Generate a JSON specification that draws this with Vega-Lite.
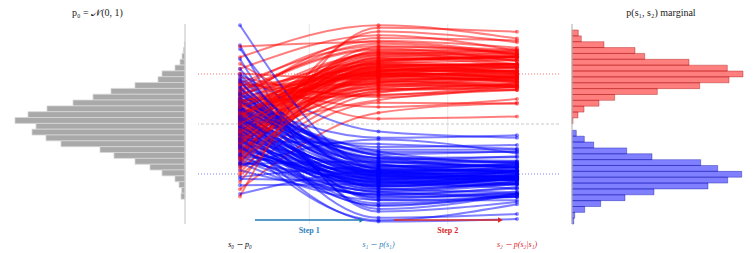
{
"$schema": "https://vega.github.io/schema/vega-lite/v6.json",
"padding": {"left": 10, "top": 7, "right": 2, "bottom": 2},
"spacing": 11,
"config": {"view": {"stroke": null}, "font": "Liberation Serif"},
"datasets": {
"steps": [{"k": "s0", "t": 0}, {"k": "s1", "t": 1}, {"k": "s2", "t": 2}],
"h0": [
{"lo": 3.29, "hi": 3.057, "n": 0.6}, {"lo": 3.057, "hi": 2.824, "n": 1.6}, {"lo": 2.824, "hi": 2.59, "n": 3}, {"lo": 2.59, "hi": 2.357, "n": 5},
{"lo": 2.357, "hi": 2.124, "n": 10}, {"lo": 2.124, "hi": 1.891, "n": 23}, {"lo": 1.891, "hi": 1.658, "n": 27}, {"lo": 1.658, "hi": 1.424, "n": 50},
{"lo": 1.424, "hi": 1.191, "n": 74}, {"lo": 1.191, "hi": 0.958, "n": 92}, {"lo": 0.958, "hi": 0.725, "n": 112}, {"lo": 0.725, "hi": 0.492, "n": 138},
{"lo": 0.492, "hi": 0.258, "n": 157}, {"lo": 0.258, "hi": 0.025, "n": 170}, {"lo": 0.025, "hi": -0.208, "n": 149}, {"lo": -0.208, "hi": -0.441, "n": 153},
{"lo": -0.441, "hi": -0.674, "n": 139}, {"lo": -0.674, "hi": -0.908, "n": 124}, {"lo": -0.908, "hi": -1.141, "n": 85}, {"lo": -1.141, "hi": -1.374, "n": 71},
{"lo": -1.374, "hi": -1.607, "n": 50}, {"lo": -1.607, "hi": -1.84, "n": 35}, {"lo": -1.84, "hi": -2.074, "n": 23}, {"lo": -2.074, "hi": -2.307, "n": 10},
{"lo": -2.307, "hi": -2.54, "n": 6}, {"lo": -2.54, "hi": -2.773, "n": 3.3}, {"lo": -2.773, "hi": -3.006, "n": 4}
],
"h1": [
{"c": "r", "lo": 3.76, "hi": 3.526, "n": 6.3}, {"c": "r", "lo": 3.526, "hi": 3.291, "n": 9.3}, {"c": "r", "lo": 3.291, "hi": 3.057, "n": 32}, {"c": "r", "lo": 3.057, "hi": 2.822, "n": 63},
{"c": "r", "lo": 2.822, "hi": 2.588, "n": 72.7}, {"c": "r", "lo": 2.588, "hi": 2.353, "n": 117}, {"c": "r", "lo": 2.353, "hi": 2.119, "n": 155.3}, {"c": "r", "lo": 2.119, "hi": 1.884, "n": 171},
{"c": "r", "lo": 1.884, "hi": 1.65, "n": 157}, {"c": "r", "lo": 1.65, "hi": 1.415, "n": 127.7}, {"c": "r", "lo": 1.415, "hi": 1.181, "n": 85.3}, {"c": "r", "lo": 1.181, "hi": 0.946, "n": 42.7},
{"c": "r", "lo": 0.946, "hi": 0.712, "n": 27}, {"c": "r", "lo": 0.712, "hi": 0.477, "n": 12}, {"c": "r", "lo": 0.477, "hi": 0.243, "n": 6}, {"c": "r", "lo": 0.243, "hi": 0.008, "n": 1},
{"c": "b", "lo": -0.252, "hi": -0.487, "n": 4.3}, {"c": "b", "lo": -0.487, "hi": -0.721, "n": 12.3}, {"c": "b", "lo": -0.721, "hi": -0.956, "n": 21.7}, {"c": "b", "lo": -0.956, "hi": -1.19, "n": 54.7},
{"c": "b", "lo": -1.19, "hi": -1.425, "n": 80}, {"c": "b", "lo": -1.425, "hi": -1.659, "n": 128.7}, {"c": "b", "lo": -1.659, "hi": -1.894, "n": 145.7}, {"c": "b", "lo": -1.894, "hi": -2.128, "n": 169.7},
{"c": "b", "lo": -2.128, "hi": -2.363, "n": 155.7}, {"c": "b", "lo": -2.363, "hi": -2.597, "n": 136}, {"c": "b", "lo": -2.597, "hi": -2.832, "n": 82}, {"c": "b", "lo": -2.832, "hi": -3.066, "n": 53},
{"c": "b", "lo": -3.066, "hi": -3.301, "n": 28.7}, {"c": "b", "lo": -3.301, "hi": -3.535, "n": 12.7}, {"c": "b", "lo": -3.535, "hi": -3.77, "n": 2.7}, {"c": "b", "lo": -3.77, "hi": -4.0, "n": 1.7}
],
"traj": [
{"id": 1, "c": "r", "s0": 0.31, "s1": 2.15, "s2": 2.28}, {"id": 101, "c": "b", "s0": -0.12, "s1": -2.1, "s2": -2.13},
{"id": 2, "c": "r", "s0": -1.12, "s1": 1.62, "s2": 1.49}, {"id": 102, "c": "b", "s0": 0.94, "s1": -1.55, "s2": -1.52},
{"id": 3, "c": "r", "s0": 0.87, "s1": 2.78, "s2": 2.71}, {"id": 103, "c": "b", "s0": -1.33, "s1": -2.72, "s2": -2.9},
{"id": 4, "c": "r", "s0": -0.45, "s1": 1.95, "s2": 2.27}, {"id": 104, "c": "b", "s0": 0.51, "s1": -1.9, "s2": -1.74},
{"id": 5, "c": "r", "s0": 1.63, "s1": 3.12, "s2": 2.81}, {"id": 105, "c": "b", "s0": 1.77, "s1": -3.05, "s2": -2.92},
{"id": 6, "c": "r", "s0": -2.05, "s1": 0.85, "s2": 0.81}, {"id": 106, "c": "b", "s0": -0.67, "s1": -0.8, "s2": -0.99},
{"id": 7, "c": "r", "s0": 0.12, "s1": 2.41, "s2": 2.54}, {"id": 107, "c": "b", "s0": 0.25, "s1": -2.35, "s2": -2.01},
{"id": 8, "c": "r", "s0": -0.78, "s1": 1.77, "s2": 1.85}, {"id": 108, "c": "b", "s0": -2.12, "s1": -1.72, "s2": -1.96},
{"id": 9, "c": "r", "s0": 1.21, "s1": 2.05, "s2": 1.9}, {"id": 109, "c": "b", "s0": 1.09, "s1": -2.0, "s2": -1.9},
{"id": 10, "c": "r", "s0": 0.54, "s1": 2.58, "s2": 2.72}, {"id": 110, "c": "b", "s0": -0.38, "s1": -2.5, "s2": -2.42},
{"id": 11, "c": "r", "s0": -0.23, "s1": 1.38, "s2": 1.46}, {"id": 111, "c": "b", "s0": 0.63, "s1": -1.35, "s2": -1.33},
{"id": 12, "c": "r", "s0": -1.58, "s1": 2.93, "s2": 2.87}, {"id": 112, "c": "b", "s0": -0.95, "s1": -2.88, "s2": -2.92},
{"id": 13, "c": "r", "s0": 2.21, "s1": 3.55, "s2": 2.93}, {"id": 113, "c": "b", "s0": 3.15, "s1": -3.5, "s2": -3.12},
{"id": 14, "c": "r", "s0": 0.02, "s1": 1.88, "s2": 2.09}, {"id": 114, "c": "b", "s0": -0.04, "s1": -1.84, "s2": -1.57},
{"id": 15, "c": "r", "s0": -0.66, "s1": 2.22, "s2": 2.11}, {"id": 115, "c": "b", "s0": -1.52, "s1": -2.18, "s2": -2.24},
{"id": 16, "c": "r", "s0": 0.95, "s1": 1.15, "s2": 1.38}, {"id": 116, "c": "b", "s0": 0.82, "s1": -1.1, "s2": -1.56},
{"id": 17, "c": "r", "s0": -1.35, "s1": 2.67, "s2": 2.82}, {"id": 117, "c": "b", "s0": 0.16, "s1": -2.62, "s2": -2.3},
{"id": 18, "c": "r", "s0": 0.41, "s1": 2.01, "s2": 1.84}, {"id": 118, "c": "b", "s0": -0.72, "s1": -1.97, "s2": -1.96},
{"id": 19, "c": "r", "s0": -0.09, "s1": 1.52, "s2": 1.73}, {"id": 119, "c": "b", "s0": 1.39, "s1": -1.47, "s2": -1.73},
{"id": 20, "c": "r", "s0": 1.48, "s1": 3.33, "s2": 3.05}, {"id": 120, "c": "b", "s0": -0.21, "s1": -3.28, "s2": -2.77},
{"id": 21, "c": "r", "s0": -0.91, "s1": 2.31, "s2": 2.41}, {"id": 121, "c": "b", "s0": -1.11, "s1": -2.27, "s2": -2.27},
{"id": 22, "c": "r", "s0": 0.73, "s1": 1.71, "s2": 1.56}, {"id": 122, "c": "b", "s0": 0.44, "s1": -1.67, "s2": -1.62},
{"id": 23, "c": "r", "s0": -2.61, "s1": 0.45, "s2": 0.85}, {"id": 123, "c": "b", "s0": 2.0, "s1": -0.3, "s2": -0.55},
{"id": 24, "c": "r", "s0": 0.18, "s1": 2.48, "s2": 2.69}, {"id": 124, "c": "b", "s0": -0.58, "s1": -2.44, "s2": -2.17},
{"id": 25, "c": "r", "s0": 1.05, "s1": 1.99, "s2": 1.9}, {"id": 125, "c": "b", "s0": 0.07, "s1": -1.95, "s2": -2.04},
{"id": 26, "c": "r", "s0": -0.37, "s1": 2.83, "s2": 2.39}, {"id": 126, "c": "b", "s0": -1.85, "s1": -2.79, "s2": -2.58},
{"id": 27, "c": "r", "s0": -1.79, "s1": 1.25, "s2": 1.61}, {"id": 127, "c": "b", "s0": 1.23, "s1": -1.2, "s2": -1.09},
{"id": 28, "c": "r", "s0": 0.62, "s1": 2.12, "s2": 2.13}, {"id": 128, "c": "b", "s0": 0.34, "s1": -2.08, "s2": -2.24},
{"id": 29, "c": "r", "s0": 2.67, "s1": 3.95, "s2": 3.42}, {"id": 129, "c": "b", "s0": -0.47, "s1": -3.9, "s2": -3.8},
{"id": 30, "c": "r", "s0": -0.55, "s1": 1.84, "s2": 2.13}, {"id": 130, "c": "b", "s0": 3.0, "s1": -1.8, "s2": -1.86},
{"id": 31, "c": "r", "s0": 0.27, "s1": 2.37, "s2": 2.26}, {"id": 131, "c": "b", "s0": -0.86, "s1": -2.33, "s2": -2.11},
{"id": 32, "c": "r", "s0": -1.02, "s1": 1.43, "s2": 1.67}, {"id": 132, "c": "b", "s0": 0.58, "s1": -1.38, "s2": -1.72},
{"id": 33, "c": "r", "s0": 1.33, "s1": 3.02, "s2": 2.51}, {"id": 133, "c": "b", "s0": 1.52, "s1": -2.98, "s2": -2.7},
{"id": 34, "c": "r", "s0": -0.14, "s1": 2.26, "s2": 2.4}, {"id": 134, "c": "b", "s0": -0.29, "s1": -2.22, "s2": -1.88},
{"id": 35, "c": "r", "s0": 0.86, "s1": 1.93, "s2": 1.87}, {"id": 135, "c": "b", "s0": -1.27, "s1": -1.89, "s2": -2.01},
{"id": 36, "c": "r", "s0": -0.71, "s1": 2.62, "s2": 2.56}, {"id": 136, "c": "b", "s0": 0.71, "s1": -2.58, "s2": -2.74},
{"id": 37, "c": "r", "s0": 1.88, "s1": 1.08, "s2": 1.54}, {"id": 137, "c": "b", "s0": 0.1, "s1": -1.03, "s2": -1.02},
{"id": 38, "c": "r", "s0": -1.24, "s1": 2.19, "s2": 1.98}, {"id": 138, "c": "b", "s0": -0.63, "s1": -2.15, "s2": -2.1},
{"id": 39, "c": "r", "s0": 0.47, "s1": 1.66, "s2": 1.84}, {"id": 139, "c": "b", "s0": 1.95, "s1": -1.62, "s2": -1.85},
{"id": 40, "c": "r", "s0": -0.31, "s1": 2.72, "s2": 2.57}, {"id": 140, "c": "b", "s0": -1.02, "s1": -2.68, "s2": -2.29},
{"id": 41, "c": "r", "s0": 0.09, "s1": 2.09, "s2": 2.23}, {"id": 141, "c": "b", "s0": 0.38, "s1": -2.05, "s2": -2.09},
{"id": 42, "c": "r", "s0": 1.12, "s1": 3.21, "s2": 2.76}, {"id": 142, "c": "b", "s0": -0.16, "s1": -3.17, "s2": -2.82},
{"id": 43, "c": "r", "s0": -1.46, "s1": 1.33, "s2": 1.55}, {"id": 143, "c": "b", "s0": 1.15, "s1": -1.28, "s2": -1.74},
{"id": 44, "c": "r", "s0": 0.68, "s1": 2.44, "s2": 2.66}, {"id": 144, "c": "b", "s0": -2.45, "s1": -2.4, "s2": -2.14},
{"id": 45, "c": "r", "s0": -0.84, "s1": 1.81, "s2": 1.76}, {"id": 145, "c": "b", "s0": 0.49, "s1": -1.77, "s2": -1.9},
{"id": 46, "c": "r", "s0": 2.41, "s1": 0.21, "s2": 0.3}, {"id": 146, "c": "b", "s0": 0.88, "s1": -0.55, "s2": -0.45},
{"id": 47, "c": "r", "s0": -0.02, "s1": 2.55, "s2": 2.65}, {"id": 147, "c": "b", "s0": -0.79, "s1": -2.51, "s2": -2.14},
{"id": 48, "c": "r", "s0": -1.95, "s1": 1.97, "s2": 2.01}, {"id": 148, "c": "b", "s0": 1.66, "s1": -1.93, "s2": -2.12},
{"id": 49, "c": "r", "s0": 0.39, "s1": 2.29, "s2": 2.09}, {"id": 149, "c": "b", "s0": -0.33, "s1": -2.25, "s2": -2.1},
{"id": 50, "c": "r", "s0": 1.57, "s1": 1.57, "s2": 1.92}, {"id": 150, "c": "b", "s0": 0.19, "s1": -1.52, "s2": -1.64},
{"id": 51, "c": "r", "s0": -0.58, "s1": 2.88, "s2": 2.66}, {"id": 151, "c": "b", "s0": -1.42, "s1": -2.84, "s2": -2.52},
{"id": 52, "c": "r", "s0": 0.21, "s1": 2.03, "s2": 2.15}, {"id": 152, "c": "b", "s0": 0.99, "s1": -1.99, "s2": -2.21},
{"id": 53, "c": "r", "s0": -1.18, "s1": 1.72, "s2": 1.47}, {"id": 153, "c": "b", "s0": -0.54, "s1": -1.68, "s2": -1.66},
{"id": 54, "c": "r", "s0": 0.99, "s1": 3.44, "s2": 3.34}, {"id": 154, "c": "b", "s0": 2.6, "s1": -3.4, "s2": -2.82},
{"id": 55, "c": "r", "s0": -0.41, "s1": 2.14, "s2": 2.04}, {"id": 155, "c": "b", "s0": -0.08, "s1": -2.1, "s2": -2.18},
{"id": 56, "c": "r", "s0": 1.74, "s1": 0.68, "s2": 1.0}, {"id": 156, "c": "b", "s0": -1.68, "s1": -0.62, "s2": -1.18},
{"id": 57, "c": "r", "s0": -0.88, "s1": 2.51, "s2": 2.69}, {"id": 157, "c": "b", "s0": 0.29, "s1": -2.47, "s2": -2.18},
{"id": 58, "c": "r", "s0": 0.05, "s1": 1.89, "s2": 1.74}, {"id": 158, "c": "b", "s0": 1.31, "s1": -1.85, "s2": -1.86},
{"id": 59, "c": "r", "s0": -2.32, "s1": 2.34, "s2": 2.38}, {"id": 159, "c": "b", "s0": -0.93, "s1": -2.3, "s2": -2.39},
{"id": 60, "c": "r", "s0": 0.58, "s1": 1.48, "s2": 1.57}, {"id": 160, "c": "b", "s0": 0.55, "s1": -1.43, "s2": -1.29},
{"id": 61, "c": "r", "s0": 1.27, "s1": 2.97, "s2": 2.94}, {"id": 161, "c": "b", "s0": 0.03, "s1": -2.93, "s2": -2.79},
{"id": 62, "c": "r", "s0": -0.19, "s1": 2.07, "s2": 1.85}, {"id": 162, "c": "b", "s0": -1.19, "s1": -2.03, "s2": -1.9},
{"id": 63, "c": "r", "s0": -0.99, "s1": 1.63, "s2": 1.79}, {"id": 163, "c": "b", "s0": 1.82, "s1": -1.59, "s2": -1.99},
{"id": 64, "c": "r", "s0": 0.81, "s1": 2.76, "s2": 2.92}, {"id": 164, "c": "b", "s0": -0.44, "s1": -2.72, "s2": -2.4},
{"id": 65, "c": "r", "s0": -1.61, "s1": 3.7, "s2": 3.27}, {"id": 165, "c": "b", "s0": 0.76, "s1": -3.75, "s2": -3.6},
{"id": 66, "c": "r", "s0": 0.33, "s1": 1.92, "s2": 1.67}, {"id": 166, "c": "b", "s0": -2.8, "s1": -1.88, "s2": -1.85},
{"id": 67, "c": "r", "s0": 1.41, "s1": 2.24, "s2": 2.4}, {"id": 167, "c": "b", "s0": 0.4, "s1": -2.2, "s2": -1.89},
{"id": 68, "c": "r", "s0": -0.73, "s1": 1.29, "s2": 1.46}, {"id": 168, "c": "b", "s0": 1.02, "s1": -1.24, "s2": -1.57},
{"id": 69, "c": "r", "s0": 0.14, "s1": 2.64, "s2": 2.37}, {"id": 169, "c": "b", "s0": -0.69, "s1": -2.6, "s2": -2.38},
{"id": 70, "c": "r", "s0": -0.5, "s1": 2.11, "s2": 2.35}, {"id": 170, "c": "b", "s0": -0.25, "s1": -2.07, "s2": -2.08},
{"id": 71, "c": "r", "s0": 2.02, "s1": 1.79, "s2": 1.79}, {"id": 171, "c": "b", "s0": 1.45, "s1": -1.75, "s2": -1.65},
{"id": 72, "c": "r", "s0": -1.31, "s1": 3.08, "s2": 2.99}, {"id": 172, "c": "b", "s0": -1.56, "s1": -3.04, "s2": -3.05},
{"id": 73, "c": "r", "s0": 0.77, "s1": 2.41, "s2": 2.02}, {"id": 173, "c": "b", "s0": 0.13, "s1": -2.37, "s2": -2.22},
{"id": 74, "c": "r", "s0": -0.27, "s1": 0.96, "s2": 1.36}, {"id": 174, "c": "b", "s0": 0.67, "s1": -0.92, "s2": -0.84},
{"id": 75, "c": "r", "s0": 0.45, "s1": 2.19, "s2": 2.08}, {"id": 175, "c": "b", "s0": -0.98, "s1": -2.15, "s2": -2.22},
{"id": 76, "c": "r", "s0": -1.07, "s1": 1.86, "s2": 1.95}, {"id": 176, "c": "b", "s0": 3.95, "s1": -1.82, "s2": -2.14},
{"id": 77, "c": "r", "s0": 1.16, "s1": 2.53, "s2": 2.7}, {"id": 177, "c": "b", "s0": -0.4, "s1": -2.49, "s2": -2.19},
{"id": 78, "c": "r", "s0": -0.62, "s1": 1.41, "s2": 1.36}, {"id": 178, "c": "b", "s0": 0.9, "s1": -1.36, "s2": -1.47},
{"id": 79, "c": "r", "s0": 0.25, "s1": 2.85, "s2": 2.79}, {"id": 179, "c": "b", "s0": -1.25, "s1": -2.81, "s2": -2.8},
{"id": 80, "c": "r", "s0": -1.7, "s1": 2.0, "s2": 1.99}, {"id": 180, "c": "b", "s0": 0.22, "s1": -1.96, "s2": -1.72},
{"id": 81, "c": "r", "s0": 0.92, "s1": 1.68, "s2": 1.9}, {"id": 181, "c": "b", "s0": 1.2, "s1": -1.64, "s2": -1.76},
{"id": 82, "c": "r", "s0": 3.1, "s1": 3.28, "s2": 2.81}, {"id": 182, "c": "b", "s0": -0.6, "s1": -3.24, "s2": -2.87},
{"id": 83, "c": "r", "s0": -0.35, "s1": 2.36, "s2": 2.38}, {"id": 183, "c": "b", "s0": -2.2, "s1": -2.32, "s2": -2.58},
{"id": 84, "c": "r", "s0": 1.6, "s1": 1.17, "s2": 1.65}, {"id": 184, "c": "b", "s0": 0.6, "s1": -1.12, "s2": -1.12},
{"id": 85, "c": "r", "s0": -0.8, "s1": 2.46, "s2": 2.28}, {"id": 185, "c": "b", "s0": -0.1, "s1": -2.42, "s2": -2.42},
{"id": 86, "c": "r", "s0": 0.36, "s1": 1.95, "s2": 1.69}, {"id": 186, "c": "b", "s0": 1.7, "s1": -1.91, "s2": -1.88},
{"id": 87, "c": "r", "s0": -2.9, "s1": 3.85, "s2": 3.69}, {"id": 187, "c": "b", "s0": -0.85, "s1": -3.85, "s2": -3.21},
{"id": 88, "c": "r", "s0": 0.66, "s1": 2.27, "s2": 2.25}, {"id": 188, "c": "b", "s0": 0.3, "s1": -2.23, "s2": -2.36},
{"id": 89, "c": "r", "s0": -1.4, "s1": 1.55, "s2": 1.5}, {"id": 189, "c": "b", "s0": -1.6, "s1": -1.5, "s2": -1.5},
{"id": 90, "c": "r", "s0": 0.0, "s1": 2.1, "s2": 2.34}, {"id": 190, "c": "b", "s0": 2.2, "s1": -2.06, "s2": -2.07}
]
},
"hconcat": [
{
"width": 175, "height": 200,
"layer": [
{"data": {"name": "h0"},
 "mark": {"type": "rect", "fill": "#a9a9a9", "stroke": "#d6d6d6", "strokeWidth": 0.8},
 "encoding": {
  "x": {"field": "n", "type": "quantitative", "scale": {"domain": [0, 175], "reverse": true, "nice": false}, "axis": null},
  "x2": {"datum": 0},
  "y": {"field": "lo", "type": "quantitative", "scale": {"domain": [-4, 4], "nice": false, "zero": false}, "axis": null},
  "y2": {"field": "hi"}}},
{"data": {"values": [{}]}, "mark": {"type": "rule", "color": "#cccccc", "strokeWidth": 1.2}, "encoding": {"x": {"datum": 0}}},
{"data": {"values": [{}]}, "mark": {"type": "text", "fontSize": 10, "color": "#222222", "baseline": "middle"},
 "encoding": {"x": {"datum": 87.5}, "y": {"datum": 4.44}, "text": {"value": "p₀ = 𝒩(0, 1)"}}}
]
},
{
"width": 361, "height": 200,
"layer": [
{"data": {"values": [{"g": 0.5}, {"g": 1.5}]}, "mark": {"type": "rule", "color": "#e6e6e6", "strokeWidth": 1},
 "encoding": {"x": {"field": "g", "type": "quantitative", "scale": {"domain": [-0.303, 2.303], "nice": false, "zero": false}, "axis": null}}},
{"data": {"values": [{}]}, "mark": {"type": "rule", "color": "#ff7070", "strokeDash": [1, 2], "strokeWidth": 1}, "encoding": {"y": {"datum": 2, "scale": {"domain": [-4, 4], "nice": false, "zero": false}, "axis": null}}},
{"data": {"values": [{}]}, "mark": {"type": "rule", "color": "#c8c8c8", "strokeDash": [3, 2], "strokeWidth": 1}, "encoding": {"y": {"datum": 0}}},
{"data": {"values": [{}]}, "mark": {"type": "rule", "color": "#8080ff", "strokeDash": [1, 2], "strokeWidth": 1}, "encoding": {"y": {"datum": -2}}},
{"data": {"name": "traj"},
 "transform": [{"fold": ["s0", "s1", "s2"], "as": ["k", "v"]}, {"lookup": "k", "from": {"data": {"name": "steps"}, "key": "k", "fields": ["t"]}}],
 "mark": {"type": "line", "interpolate": "monotone", "strokeWidth": 2, "opacity": 0.5},
 "encoding": {
  "x": {"field": "t", "type": "quantitative"},
  "y": {"field": "v", "type": "quantitative"},
  "detail": {"field": "id"},
  "color": {"field": "c", "type": "nominal", "scale": {"domain": ["r", "b"], "range": ["#ff0000", "#0000ff"]}, "legend": null}}},
{"data": {"name": "traj"},
 "transform": [{"fold": ["s0", "s1", "s2"], "as": ["k", "v"]}, {"lookup": "k", "from": {"data": {"name": "steps"}, "key": "k", "fields": ["t"]}}],
 "mark": {"type": "circle", "size": 16, "opacity": 0.45},
 "encoding": {
  "x": {"field": "t", "type": "quantitative"},
  "y": {"field": "v", "type": "quantitative"},
  "color": {"field": "c", "type": "nominal", "legend": null}}},
{"data": {"values": [{"a": 0.108, "b": 0.87, "y": -3.84}]}, "mark": {"type": "rule", "color": "#1f77b4", "strokeWidth": 1.5},
 "encoding": {"x": {"field": "a", "type": "quantitative"}, "x2": {"field": "b"}, "y": {"field": "y", "type": "quantitative"}}},
{"data": {"values": [{"b": 0.88, "y": -3.84}]}, "mark": {"type": "point", "shape": "triangle-right", "filled": true, "size": 30, "color": "#1f77b4", "opacity": 1},
 "encoding": {"x": {"field": "b", "type": "quantitative"}, "y": {"field": "y", "type": "quantitative"}}},
{"data": {"values": [{"a": 1.11, "b": 1.87, "y": -3.84}]}, "mark": {"type": "rule", "color": "#d62728", "strokeWidth": 1.5},
 "encoding": {"x": {"field": "a", "type": "quantitative"}, "x2": {"field": "b"}, "y": {"field": "y", "type": "quantitative"}}},
{"data": {"values": [{"b": 1.88, "y": -3.84}]}, "mark": {"type": "point", "shape": "triangle-right", "filled": true, "size": 30, "color": "#d62728", "opacity": 1},
 "encoding": {"x": {"field": "b", "type": "quantitative"}, "y": {"field": "y", "type": "quantitative"}}},
{"data": {"values": [{"x": 0.5, "y": -4.26, "s": "Step 1"}]}, "mark": {"type": "text", "fontSize": 8, "fontWeight": "bold", "color": "#2f7fc0", "baseline": "middle"},
 "encoding": {"x": {"field": "x", "type": "quantitative"}, "y": {"field": "y", "type": "quantitative"}, "text": {"field": "s"}}},
{"data": {"values": [{"x": 1.5, "y": -4.26, "s": "Step 2"}]}, "mark": {"type": "text", "fontSize": 8, "fontWeight": "bold", "color": "#d62728", "baseline": "middle"},
 "encoding": {"x": {"field": "x", "type": "quantitative"}, "y": {"field": "y", "type": "quantitative"}, "text": {"field": "s"}}},
{"data": {"values": [{"x": 0, "y": -4.83, "s": "s₀ ∼ p₀"}]}, "mark": {"type": "text", "fontSize": 8, "fontStyle": "italic", "color": "#000000", "baseline": "middle"},
 "encoding": {"x": {"field": "x", "type": "quantitative"}, "y": {"field": "y", "type": "quantitative"}, "text": {"field": "s"}}},
{"data": {"values": [{"x": 1, "y": -4.83, "s": "s₁ ∼ p(s₁)"}]}, "mark": {"type": "text", "fontSize": 8, "fontStyle": "italic", "color": "#2f7fc0", "baseline": "middle"},
 "encoding": {"x": {"field": "x", "type": "quantitative"}, "y": {"field": "y", "type": "quantitative"}, "text": {"field": "s"}}},
{"data": {"values": [{"x": 2, "y": -4.83, "s": "s₂ ∼ p(s₂|s₁)"}]}, "mark": {"type": "text", "fontSize": 8, "fontStyle": "italic", "color": "#d62728", "baseline": "middle"},
 "encoding": {"x": {"field": "x", "type": "quantitative"}, "y": {"field": "y", "type": "quantitative"}, "text": {"field": "s"}}}
]
},
{
"width": 178, "height": 200,
"layer": [
{"data": {"name": "h1"},
 "mark": {"type": "rect", "fillOpacity": 0.5, "strokeOpacity": 0.45, "strokeWidth": 0.8},
 "encoding": {
  "x": {"field": "n", "type": "quantitative", "scale": {"domain": [0, 178], "nice": false}, "axis": null},
  "x2": {"datum": 0},
  "y": {"field": "lo", "type": "quantitative", "scale": {"domain": [-4, 4], "nice": false, "zero": false}, "axis": null},
  "y2": {"field": "hi"},
  "fill": {"field": "c", "type": "nominal", "scale": {"domain": ["r", "b"], "range": ["#ff0000", "#0000ff"]}, "legend": null},
  "stroke": {"field": "c", "type": "nominal", "scale": {"domain": ["r", "b"], "range": ["#990000", "#000099"]}, "legend": null}}},
{"data": {"values": [{}]}, "mark": {"type": "rule", "color": "#bbbbbb", "strokeWidth": 1.2}, "encoding": {"x": {"datum": 0}}},
{"data": {"values": [{}]}, "mark": {"type": "text", "fontSize": 10, "color": "#222222", "baseline": "middle"},
 "encoding": {"x": {"datum": 89}, "y": {"datum": 4.44}, "text": {"value": "p(s₁, s₂) marginal"}}}
]
}
]
}
